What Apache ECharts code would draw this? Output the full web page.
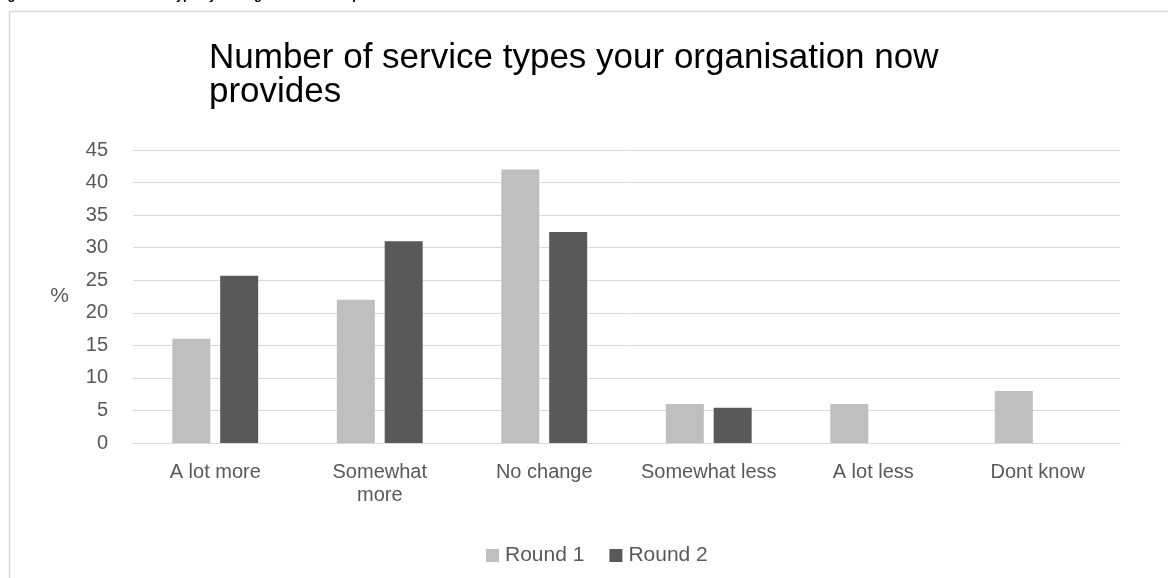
<!DOCTYPE html>
<html>
<head>
<meta charset="utf-8">
<script src="https://cdn.jsdelivr.net/npm/echarts@6/dist/echarts.min.js"></script>
<style>
  html, body { margin: 0; padding: 0; background: #fff; }
  #ech { width: 1168px; height: 578px; }
</style>
</head>
<body>
<div id="ech"></div>
<script>
var categories = ['A lot more', 'Somewhat\nmore', 'No change', 'Somewhat less', 'A lot less', 'Dont know'];
var round1 = [16, 22, 42, 6, 6, 8];
var round2 = [25.7, 31, 32.4, 5.4, null, null];
var yTicks = [0, 45, 5]; // min, max, step

var myChart = echarts.init(document.getElementById('ech'));
var font = 'Liberation Sans, Arial, sans-serif';

var option = {
    animation: false,
    backgroundColor: '#fff',
    title: {
        text: 'Number of service types your organisation now\nprovides',
        left: 204,
        top: 36,
        textStyle: {
            fontFamily: font,
            fontWeight: 'normal',
            fontSize: 35,
            lineHeight: 34,
            color: '#000'
        }
    },
    legend: {
        data: ['Round 1', 'Round 2'],
        left: 481,
        top: 540,
        itemWidth: 13,
        itemHeight: 13,
        itemGap: 25,
        icon: 'rect',
        textStyle: { fontFamily: font, fontSize: 21, color: '#595959', padding: [0, 0, 0, 1] }
    },
    grid: { left: 133, right: 48, top: 150, bottom: 135 },
    xAxis: {
        type: 'category',
        data: categories,
        axisLine: { lineStyle: { color: '#d9d9d9', width: 1 } },
        axisTick: { show: false },
        axisLabel: {
            fontFamily: font,
            fontSize: 20,
            lineHeight: 23,
            color: '#595959',
            margin: 18,
            interval: 0
        }
    },
    yAxis: {
        type: 'value',
        min: yTicks[0],
        max: yTicks[1],
        interval: yTicks[2],
        name: '%',
        nameLocation: 'middle',
        nameRotate: 0,
        nameGap: 64,
        nameTextStyle: { fontFamily: font, fontSize: 21, color: '#595959', padding: [10, 0, 0, 0] },
        axisLine: { show: false },
        axisTick: { show: false },
        splitLine: { lineStyle: { color: '#d9d9d9', width: 1 } },
        axisLabel: { fontFamily: font, fontSize: 20, color: '#595959', margin: 25 }
    },
    series: [
        {
            name: 'Round 1',
            type: 'bar',
            data: round1,
            barWidth: 38,
            barGap: '26%',
            itemStyle: { color: '#bfbfbf' }
        },
        {
            name: 'Round 2',
            type: 'bar',
            data: round2,
            barWidth: 38,
            itemStyle: { color: '#595959' }
        }
    ],
    graphic: [
        {
            type: 'rect',
            silent: true,
            shape: { x: 9.5, y: 11.5, width: 1300, height: 700 },
            style: { fill: null, stroke: '#d9d9d9', lineWidth: 1.5 }
        },
        {
            type: 'text',
            silent: true,
            x: -4,
            y: 2,
            style: {
                text: 'Figure 6: Number of service types your organisation now provides',
                font: 'bold 13px ' + font,
                fill: '#000',
                textVerticalAlign: 'bottom'
            }
        }
    ]
};
myChart.setOption(option);
</script>
</body>
</html>
